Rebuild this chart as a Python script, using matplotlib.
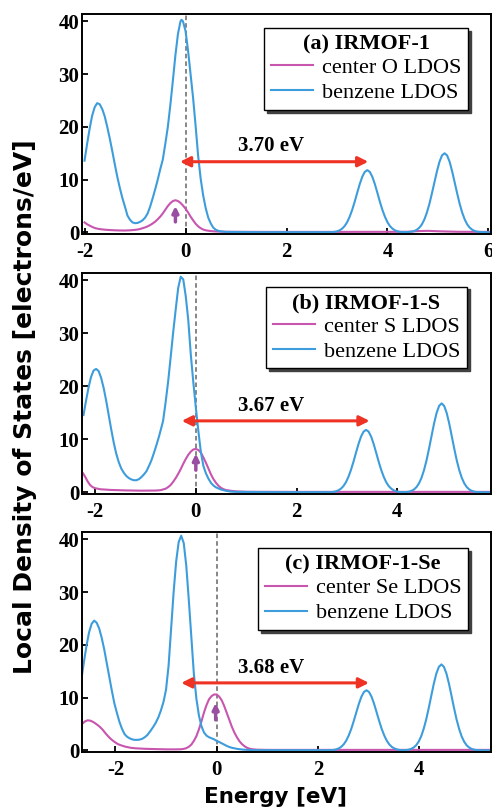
import matplotlib
matplotlib.use("Agg")
import matplotlib.pyplot as plt
from matplotlib.font_manager import FontProperties

plt.rcParams['axes.unicode_minus'] = False

# ---------------- data ----------------
# Panel (a) IRMOF-1 : benzene LDOS
a_blue_E = [-2.0, -1.95, -1.9, -1.85, -1.8, -1.75, -1.7, -1.65, -1.6, -1.55, -1.5, -1.45, -1.4,
            -1.35, -1.3, -1.25, -1.2, -1.15, -1.1, -1.05, -1.0, -0.95, -0.9, -0.85, -0.8, -0.75,
            -0.7, -0.65, -0.6, -0.55, -0.5, -0.45, -0.4, -0.35, -0.3, -0.25, -0.2, -0.15, -0.1,
            -0.08, -0.05, 0.0, 0.05, 0.1, 0.15, 0.2, 0.25, 0.3, 0.35, 0.4, 0.45, 0.5, 0.55, 0.6,
            0.65, 0.7, 0.8, 1.5, 2.5, 2.9,
            2.95, 3.0, 3.05, 3.1, 3.15, 3.2, 3.25, 3.3, 3.35, 3.4, 3.45, 3.5, 3.55, 3.6, 3.65,
            3.7, 3.75, 3.8, 3.85, 3.9, 3.95, 4.0, 4.05, 4.1, 4.15, 4.2, 4.25, 4.3, 4.35,
            4.43, 4.48, 4.53, 4.58, 4.63, 4.68, 4.73, 4.78, 4.83, 4.88, 4.93, 4.98, 5.03, 5.08,
            5.13, 5.18, 5.23, 5.28, 5.33, 5.38, 5.43, 5.48, 5.53, 5.58, 5.63, 5.68, 5.73, 5.78,
            5.83, 5.95, 6.05]
a_blue_V = [13.6, 16.7, 19.6, 22.1, 23.7, 24.5, 24.3, 23.4, 22.0, 20.0, 17.8, 15.4, 12.9,
            10.5, 8.4, 6.5, 4.9, 3.2, 2.4, 1.9, 1.75, 1.8, 2.0, 2.3, 2.8, 3.6,
            4.9, 6.5, 8.2, 10.0, 12.0, 13.8, 16.8, 20.0, 24.2, 28.8, 33.6, 37.6, 40.0,
            40.3, 40.0, 38.2, 34.5, 30.0, 25.5, 20.2, 14.5, 10.2, 7.0, 4.6, 2.8, 1.7, 0.9, 0.5,
            0.3, 0.2, 0.1, 0.05, 0.05, 0.05,
            0.1, 0.2, 0.39, 0.7, 1.19, 1.92, 2.95, 4.25, 5.8, 7.5, 9.15, 10.54, 11.47, 11.8, 11.47,
            10.54, 9.15, 7.5, 5.8, 4.25, 2.95, 1.92, 1.19, 0.7, 0.39, 0.2, 0.1, 0.07, 0.06,
            0.1, 0.14, 0.26, 0.5, 0.89, 1.5, 2.45, 3.75, 5.4, 7.4, 9.5, 11.6, 13.4, 14.6,
            15.0, 14.6, 13.4, 11.6, 9.5, 7.4, 5.4, 3.75, 2.45, 1.5, 0.89, 0.5, 0.26, 0.14,
            0.08, 0.03, 0.02]
# Panel (a) : center O LDOS
a_mag_E = [-2.0, -1.95, -1.9, -1.85, -1.8, -1.75, -1.7, -1.6, -1.5, -1.4, -1.3, -1.2, -1.1,
           -1.0, -0.95, -0.9, -0.85, -0.8, -0.75, -0.7, -0.65, -0.6, -0.55, -0.5, -0.45, -0.4,
           -0.35, -0.3, -0.25, -0.2, -0.15, -0.1, -0.05, 0.0, 0.05, 0.1, 0.15, 0.2, 0.25, 0.3,
           0.35, 0.4, 0.5, 0.6, 0.8, 1.5, 3.0, 4.4, 4.6, 4.8, 5.0, 5.4, 6.05]
a_mag_V = [1.9, 1.55, 1.3, 1.05, 0.85, 0.72, 0.63, 0.52, 0.45, 0.4, 0.37, 0.36, 0.4,
           0.48, 0.55, 0.65, 0.8, 0.95, 1.15, 1.4, 1.7, 2.05, 2.5, 3.0, 3.6, 4.3,
           5.0, 5.55, 5.95, 6.1, 5.95, 5.6, 5.1, 4.5, 3.8, 3.0, 2.3, 1.65, 1.15, 0.8,
           0.55, 0.4, 0.25, 0.18, 0.12, 0.1, 0.1, 0.12, 0.25, 0.3, 0.22, 0.12, 0.1]

# Panel (b) IRMOF-1-S : benzene LDOS
b_blue_E = [-2.23, -2.18, -2.13, -2.08, -2.03, -1.98, -1.93, -1.88, -1.83, -1.78, -1.73, -1.68,
            -1.63, -1.58, -1.53, -1.48, -1.43, -1.38, -1.33, -1.28, -1.23, -1.18, -1.13, -1.08,
            -1.03, -0.98, -0.93, -0.88, -0.83, -0.78, -0.73, -0.68, -0.65, -0.6, -0.55, -0.5,
            -0.45, -0.4, -0.35, -0.3, -0.25, -0.2, -0.15, -0.1, -0.05, 0.0, 0.05, 0.1, 0.15,
            0.2, 0.25, 0.3, 0.35, 0.4, 0.5, 0.6, 0.7, 0.8, 1.5, 2.5, 2.63,
            2.68, 2.73, 2.78, 2.83, 2.88, 2.93, 2.98, 3.03, 3.08, 3.13, 3.18, 3.23, 3.28, 3.33,
            3.38, 3.43, 3.48, 3.53, 3.58, 3.63, 3.68, 3.73, 3.78, 3.83, 3.88, 3.93, 3.98, 4.03,
            4.08,
            4.18, 4.23, 4.28, 4.33, 4.38, 4.43, 4.48, 4.53, 4.58, 4.63, 4.68, 4.73, 4.78, 4.83,
            4.88, 4.93, 4.98, 5.03, 5.08, 5.13, 5.18, 5.23, 5.28, 5.33, 5.38, 5.43, 5.48, 5.53,
            5.58, 5.7, 5.9]
b_blue_V = [14.6, 17.3, 19.8, 21.8, 23.0, 23.3, 22.9, 21.6, 19.7, 17.3, 14.6, 11.9,
            9.4, 7.3, 5.7, 4.5, 3.7, 3.1, 2.7, 2.45, 2.3, 2.3, 2.5, 2.9,
            3.4, 4.0, 5.0, 6.1, 7.5, 9.0, 10.6, 12.4, 13.5, 17.0, 20.9, 25.5,
            30.2, 34.5, 38.6, 40.7, 40.2, 37.0, 32.5, 26.0, 20.8, 16.0, 11.6, 7.6, 5.0,
            3.6, 2.6, 1.8, 1.3, 0.95, 0.55, 0.3, 0.15, 0.1, 0.05, 0.05, 0.05,
            0.05, 0.1, 0.2, 0.39, 0.7, 1.19, 1.92, 2.95, 4.25, 5.8, 7.5, 9.15, 10.54, 11.47,
            11.8, 11.47, 10.54, 9.15, 7.5, 5.8, 4.25, 2.95, 1.92, 1.19, 0.7, 0.39, 0.2, 0.1,
            0.05,
            0.07, 0.14, 0.29, 0.55, 0.99, 1.7, 2.74, 4.2, 6.05, 8.27, 10.67, 13.02, 15.0, 16.33,
            16.8, 16.33, 15.0, 13.02, 10.67, 8.27, 6.05, 4.2, 2.74, 1.7, 0.99, 0.55, 0.29, 0.14,
            0.07, 0.03, 0.02]
# Panel (b) : center S LDOS
b_mag_E = [-2.24, -2.2, -2.15, -2.1, -2.05, -2.0, -1.9, -1.7, -1.4, -1.1, -0.8, -0.7, -0.6,
           -0.55, -0.5, -0.45, -0.4, -0.35, -0.3, -0.25, -0.2, -0.15, -0.1, -0.05, 0.0, 0.05,
           0.1, 0.15, 0.2, 0.25, 0.3, 0.35, 0.4, 0.45, 0.5, 0.55, 0.6, 0.7, 0.8, 1.0, 2.0, 5.9]
b_mag_V = [3.6, 3.0, 2.1, 1.4, 1.0, 0.8, 0.6, 0.47, 0.38, 0.33, 0.35, 0.42, 0.7,
           1.0, 1.4, 2.0, 2.7, 3.5, 4.4, 5.4, 6.3, 7.1, 7.7, 8.1, 8.2, 8.0,
           7.5, 6.6, 5.6, 4.5, 3.4, 2.5, 1.8, 1.25, 0.85, 0.6, 0.45, 0.3, 0.2, 0.12, 0.1, 0.1]

# Panel (c) IRMOF-1-Se : benzene LDOS
c_blue_E = [-2.66, -2.62, -2.57, -2.52, -2.47, -2.42, -2.37, -2.32, -2.27, -2.22, -2.17, -2.12,
            -2.07, -2.02, -1.97, -1.92, -1.87, -1.82, -1.77, -1.72, -1.67, -1.62, -1.57, -1.52,
            -1.47, -1.42, -1.37, -1.3, -1.25, -1.2, -1.15, -1.1, -1.05, -1.0, -0.95, -0.9,
            -0.85, -0.8, -0.75, -0.7, -0.65, -0.6, -0.55, -0.5, -0.45, -0.4, -0.35, -0.3,
            -0.25, -0.2, -0.15, -0.1, -0.05, 0.0, 0.05, 0.1, 0.15, 0.2, 0.25, 0.3, 0.4, 0.5,
            0.6, 0.8, 1.5, 2.2,
            2.26, 2.31, 2.36, 2.41, 2.46, 2.51, 2.56, 2.61, 2.66, 2.71, 2.76, 2.81, 2.86, 2.91,
            2.96, 3.01, 3.06, 3.11, 3.16, 3.21, 3.26, 3.31, 3.36, 3.41, 3.46, 3.51, 3.56, 3.61,
            3.66,
            3.74, 3.79, 3.84, 3.89, 3.94, 3.99, 4.04, 4.09, 4.14, 4.19, 4.24, 4.29, 4.34, 4.39,
            4.44, 4.49, 4.54, 4.59, 4.64, 4.69, 4.74, 4.79, 4.84, 4.89, 4.94, 4.99, 5.04, 5.09,
            5.14, 5.3, 5.45]
c_blue_V = [14.3, 16.9, 19.9, 22.4, 24.0, 24.6, 24.2, 23.1, 21.3, 19.1, 16.5, 13.9,
            11.3, 8.9, 7.1, 5.4, 4.1, 3.1, 2.6, 2.3, 2.1, 2.0, 2.0, 2.05,
            2.2, 2.5, 2.9, 3.8, 4.5, 5.3, 6.3, 7.6, 9.2, 11.5, 16.0, 23.0,
            30.0, 35.8, 39.5, 40.7, 39.3, 35.0, 28.5, 21.5, 14.5, 9.8, 6.6, 4.6,
            3.4, 2.8, 2.5, 2.3, 2.1, 1.8, 1.6, 1.35, 1.1, 0.85, 0.65, 0.5, 0.3, 0.17,
            0.1, 0.05, 0.05, 0.05,
            0.045, 0.095, 0.19, 0.38, 0.67, 1.15, 1.86, 2.85, 4.1, 5.61, 7.24, 8.84, 10.18, 11.08,
            11.4, 11.08, 10.18, 8.84, 7.24, 5.61, 4.1, 2.85, 1.86, 1.15, 0.67, 0.38, 0.19, 0.095,
            0.045,
            0.064, 0.135, 0.28, 0.54, 0.96, 1.65, 2.66, 4.08, 5.87, 8.02, 10.35, 12.63, 14.56, 15.84,
            16.3, 15.84, 14.56, 12.63, 10.35, 8.02, 5.87, 4.08, 2.66, 1.65, 0.96, 0.54, 0.28, 0.135,
            0.064, 0.02, 0.02]
# Panel (c) : center Se LDOS
c_mag_E = [-2.65, -2.6, -2.55, -2.5, -2.45, -2.4, -2.35, -2.3, -2.25, -2.2, -2.15, -2.1, -2.05,
           -2.0, -1.95, -1.9, -1.8, -1.7, -1.6, -1.4, -1.2, -1.0, -0.8, -0.7, -0.65, -0.6,
           -0.55, -0.5, -0.45, -0.4, -0.35, -0.3, -0.25, -0.2, -0.15, -0.1, -0.05, 0.0, 0.05,
           0.1, 0.15, 0.2, 0.25, 0.3, 0.35, 0.4, 0.45, 0.5, 0.55, 0.6, 0.65, 0.7, 0.8, 1.0, 5.45]
c_mag_V = [5.1, 5.5, 5.7, 5.65, 5.45, 5.15, 4.8, 4.4, 3.9, 3.3, 2.75, 2.25, 1.85,
           1.5, 1.2, 1.0, 0.7, 0.5, 0.4, 0.3, 0.25, 0.2, 0.2, 0.22, 0.3, 0.42,
           0.7, 1.1, 1.8, 2.7, 4.0, 5.5, 7.2, 8.6, 9.7, 10.3, 10.6, 10.6, 10.2,
           9.5, 8.4, 7.1, 5.8, 4.5, 3.4, 2.5, 1.75, 1.2, 0.8, 0.5, 0.33, 0.22, 0.14, 0.1, 0.1]

titles = ["(a) IRMOF-1", "(b) IRMOF-1-S", "(c) IRMOF-1-Se"]
center_labels = ["center O LDOS", "center S LDOS", "center Se LDOS"]
benzene_label = "benzene LDOS"
gap_labels = ["3.70 eV", "3.67 eV", "3.68 eV"]
gap_start = [-0.11, -0.28, -0.70]
gap_end = [3.62, 3.45, 3.01]
gap_level = [13.4, 13.5, 12.8]
gap_text_x = [1.69, 1.50, 1.08]
gap_text_y = [16.3, 16.3, 15.7]
mark_x = [-0.2, 0.0, -0.02]
mark_y0 = [2.0, 4.2, 5.8]
mark_y1 = [5.0, 7.3, 9.0]
xlims = [(-2.05, 6.05), (-2.26, 5.86), (-2.66, 5.42)]
xticks = [[-2, 0, 2, 4, 6], [-2, 0, 2, 4], [-2, 0, 2, 4]]
yticks = [0, 10, 20, 30, 40]
legend_anchor = [(0.944, 0.936), (0.941, 0.938), (0.944, 0.926)]

blue_E = [a_blue_E, b_blue_E, c_blue_E]
blue_V = [a_blue_V, b_blue_V, c_blue_V]
mag_E = [a_mag_E, b_mag_E, c_mag_E]
mag_V = [a_mag_V, b_mag_V, c_mag_V]

BLUE = '#3d9ddc'
MAG = '#c855ae'
RED = '#ee3325'
PURP = '#9a4ea2'

fig = plt.figure(figsize=(4.92, 8.11), dpi=100)
W, H = 492.0, 811.0
boxes = [(14, 234), (273, 494), (532, 752)]
serif_b = FontProperties(family='Liberation Serif', weight='bold', size=15)
leg_prop = FontProperties(family='Liberation Serif', size=16)
leg_title = FontProperties(family='Liberation Serif', weight='bold', size=16)

for i in range(3):
    top, bot = boxes[i]
    ax = fig.add_axes([82 / W, 1 - bot / H, (491 - 82) / W, (bot - top) / H])
    ax.plot(mag_E[i], mag_V[i], color=MAG, lw=1.5, label=center_labels[i])
    ax.plot(blue_E[i], blue_V[i], color=BLUE, lw=1.5, label=benzene_label)
    ax.axvline(0, color='#666666', lw=1.1, ls=(0, (3, 2)), zorder=1)
    ax.set_xlim(*xlims[i])
    ax.set_ylim(-0.3, 41.4)
    ax.set_xticks(xticks[i])
    ax.set_yticks(yticks)
    ax.tick_params(direction='in', length=4, width=1.3, top=False, right=False)
    ax.tick_params(axis='x', pad=6)
    ax.tick_params(axis='y', pad=2)
    for lab in ax.get_xticklabels() + ax.get_yticklabels():
        lab.set_fontproperties(serif_b)
    for s in ax.spines.values():
        s.set_linewidth(1.4)
    # gap arrow
    ax.annotate('', xy=(gap_end[i], gap_level[i]), xytext=(gap_start[i], gap_level[i]),
                arrowprops=dict(arrowstyle='<|-|>', color=RED, lw=2.2,
                                mutation_scale=15, shrinkA=0, shrinkB=0))
    ax.text(gap_text_x[i], gap_text_y[i], gap_labels[i], ha='center', va='center',
            fontproperties=FontProperties(family='Liberation Serif', weight='bold', size=15))
    # small marker arrow
    ax.annotate('', xy=(mark_x[i], mark_y1[i]), xytext=(mark_x[i], mark_y0[i]),
                arrowprops=dict(arrowstyle='-|>', color=PURP, lw=2.5,
                                mutation_scale=9, shrinkA=0, shrinkB=0))
    leg = ax.legend(loc='upper right', bbox_to_anchor=legend_anchor[i], borderaxespad=0,
                    title=titles[i], title_fontproperties=leg_title, prop=leg_prop,
                    frameon=True, fancybox=False, shadow={'color': '0.25', 'alpha': 1},
                    handlelength=1.9, handletextpad=0.4, labelspacing=0.2,
                    borderpad=0.3)
    leg.get_frame().set_edgecolor('black')
    leg.get_frame().set_linewidth(1.0)
    leg.get_frame().set_alpha(1)
    leg._legend_box.sep = 2

fig.text(25 / W, 0.498, 'Local Density of States [electrons/eV]', rotation=90,
         ha='center', va='center', fontsize=18, fontweight='bold', family='DejaVu Sans')
fig.text(275 / W, 1 - 803 / H, 'Energy [eV]', ha='center', va='baseline',
         fontsize=15.5, fontweight='bold', family='DejaVu Sans')

fig.savefig('out.png', dpi=100)
